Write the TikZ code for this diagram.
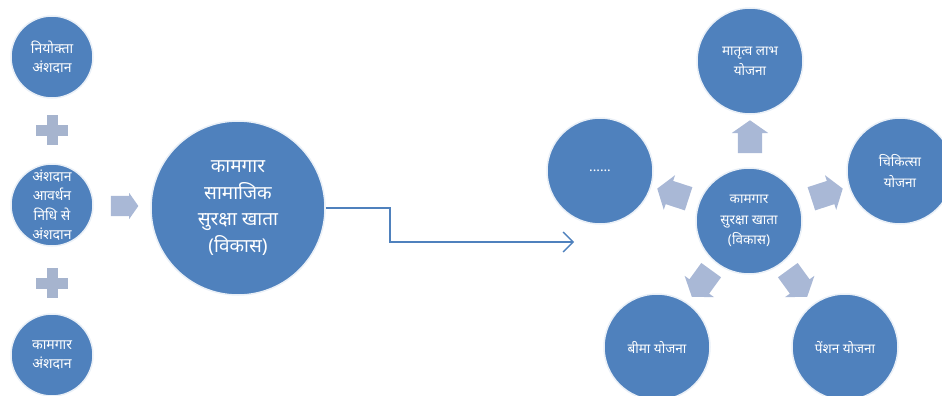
\documentclass[tikz,border=0pt]{standalone}
\usepackage{fontspec}
\newfontfamily\deva[Script=Devanagari]{Noto Sans}
\usetikzlibrary{shapes.arrows,arrows.meta}
\definecolor{fillblue}{HTML}{4F81BD}
\definecolor{arrowgrey}{HTML}{A9B8D6}
\definecolor{plusgrey}{HTML}{A6B4CE}

\begin{document}
\begin{tikzpicture}
  [x=1pt, y=-1pt,
   every node/.style={text=white, align=center},
   bubble/.style={circle, fill=fillblue, draw=fillblue!12, line width=1.5pt, inner sep=0pt},
   small bubble/.style={bubble, minimum size=82pt, font=\deva\fontsize{14}{19.5}\selectfont},
   big bubble/.style={bubble, minimum size=174pt, font=\deva\fontsize{19}{26.5}\selectfont},
   ring bubble/.style={bubble, minimum size=106pt, font=\deva\fontsize{13.5}{20.5}\selectfont},
   blockarrow/.style={single arrow, fill=arrowgrey, inner sep=12pt, minimum height=25pt,
     single arrow head extend=6pt, single arrow tip angle=110},
   link/.style={draw=fillblue, line width=1.3pt, -{Straight Barb[length=10pt,width=20pt]}}]
  \useasboundingbox (0,0) rectangle (942,396);
  \clip (0,0) rectangle (942,396);

  \node [small bubble] (employer) at (52,57) {नियोक्ता\\अंशदान};
  \node [small bubble] (fund) at (52,205) {अंशदान\\आवर्धन\\निधि से\\अंशदान};
  \node [small bubble] (worker) at (52,355) {कामगार\\अंशदान};
  \foreach \y in {130,283} {
    \fill [plusgrey] (36,\y-5.5) rectangle (68,\y+5.5);
    \fill [plusgrey] (46.5,\y-15) rectangle (57.5,\y+15);
  }
  \node [blockarrow, inner sep=10pt, single arrow head extend=3pt] (feed) at (121,206) {};
  \node [big bubble] (account) at (238,208) {कामगार\\सामाजिक\\सुरक्षा खाता\\(विकास)};

  \node [ring bubble] (hub) at (749,221) {कामगार\\सुरक्षा खाता\\(विकास)};
  \node [ring bubble] (maternity) at (750,61) {मातृत्व लाभ\\योजना};
  \node [ring bubble] (medical) at (900,171) {चिकित्सा\\योजना};
  \node [ring bubble] (pension) at (845,347) {पेंशन योजना};
  \node [ring bubble] (insurance) at (657,347) {बीमा योजना};
  \node [ring bubble] (others) at (600,171) {......};

  \node [blockarrow, rotate=90] (toup) at (750,141) {};
  \node [blockarrow, rotate=18] (toright) at (823,195) {};
  \node [blockarrow, rotate=-54] (todownright) at (795,280) {};
  \node [blockarrow, rotate=-126] (todownleft) at (704,280) {};
  \node [blockarrow, rotate=162] (toleft) at (677,195) {};

  \coordinate (bend) at (390,208);
  \coordinate (arrowend) at (574,242);
  \draw [link] (account.east) -- (bend) |- (arrowend);
\end{tikzpicture}
\end{document}
